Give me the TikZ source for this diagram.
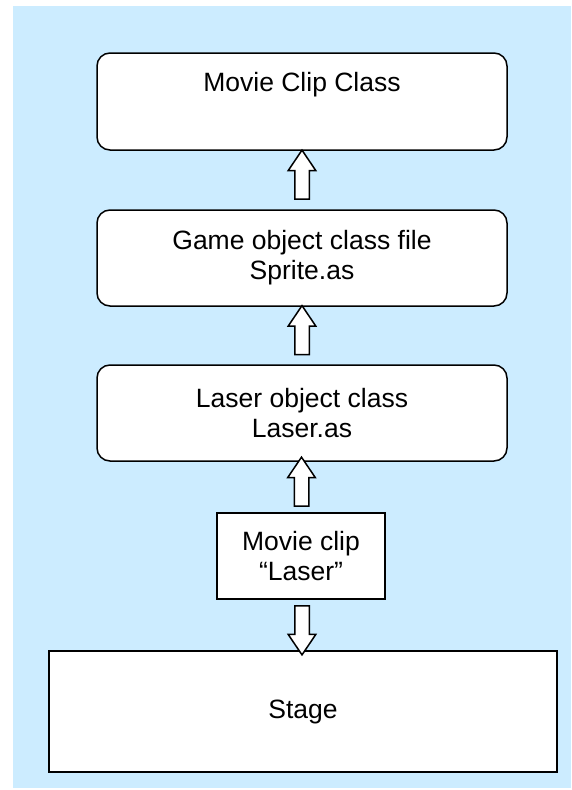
\documentclass[tikz,border=0pt]{standalone}
\usepackage{fontspec}
\setmainfont{Liberation Sans}
\usetikzlibrary{shapes.arrows, positioning}

\definecolor{skyblue}{RGB}{204,236,255}

\begin{document}
\begin{tikzpicture}[
    x=1pt, y=-1pt,
    font=\fontsize{26.5}{30}\selectfont,
    classbox/.style={draw, rectangle, rounded corners=13pt, fill=white,
        line width=1.5pt, minimum width=410pt, minimum height=96pt,
        align=center, inner sep=0pt},
    plainbox/.style={draw, rectangle, fill=white, line width=1.5pt,
        align=center, inner sep=0pt},
    blockarrow/.style={single arrow, draw, fill=white, line width=1.5pt,
        single arrow head extend=6.5pt, single arrow tip angle=68,
        inner xsep=6.5pt, inner ysep=0pt, minimum height=49pt},
    uparrow/.style={blockarrow, shape border rotate=90},
    downarrow/.style={blockarrow, shape border rotate=270},
]

\useasboundingbox (0,0) rectangle (571,790);
\fill[skyblue] (13,6) rectangle (571,788);

% === Class hierarchy ===
\node[classbox, minimum height=97pt] (movieclass) at (302, 101.5)
    {Movie Clip Class\\\strut};
\node[classbox] (gameobj) at (302, 258)
    {Game object class file\\Sprite.as};
\node[classbox] (laserobj) at (302, 413)
    {Laser object class\\Laser.as};

% === Library symbol and stage ===
\node[plainbox, minimum width=168pt, minimum height=86pt] (clip) at (301, 556)
    {Movie clip\\“Laser”};
\node[plainbox, minimum width=508pt, minimum height=121pt] (stage) at (303, 711.5)
    {Stage};

% === Arrows ===
\path (gameobj.north) -- node[uparrow] {} (movieclass.south);
\path (laserobj.north) -- node[uparrow] {} (gameobj.south);
\path (clip.north) -- node[uparrow] {} (laserobj.south);
\path (clip.south) -- node[downarrow] {} (stage.north);

\end{tikzpicture}
\end{document}
